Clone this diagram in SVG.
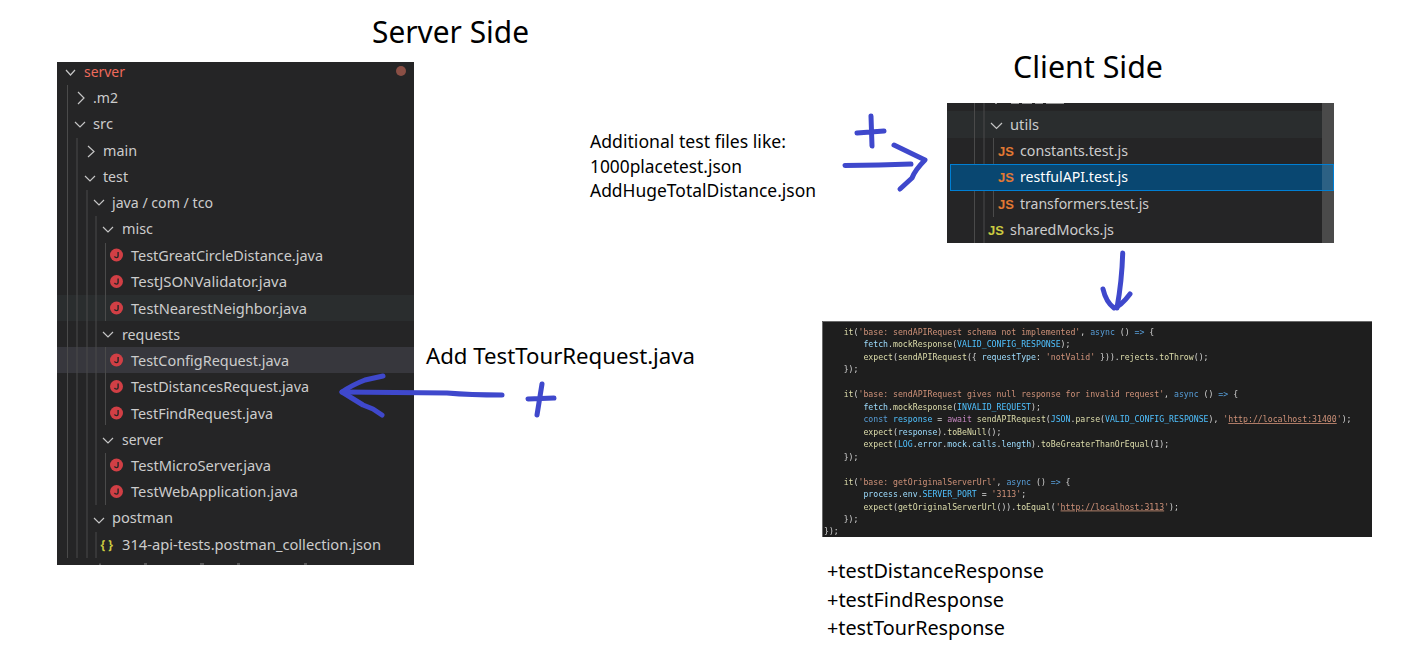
<svg xmlns="http://www.w3.org/2000/svg" width="1416" height="672" viewBox="0 0 1416 672">
<style>
text{font-family:"Noto Sans","Open Sans","Liberation Sans",sans-serif}
.t{fill:#000;font-size:18px}
.h{fill:#000;font-size:30px}
.r{fill:#cccccc;font-size:15px}
.g{stroke:#4a4a4a;stroke-width:1;fill:none}
.c{stroke:#c5c5c5;stroke-width:1.2;fill:none}
.i{fill:#d13f45}
.js{font-size:13px;font-weight:bold;font-family:"Liberation Sans",sans-serif;fill:#e37933}
.k{font-family:"DejaVu Sans Mono","Liberation Mono",monospace;font-size:8.2px;fill:#d4d4d4;white-space:pre}
.f{fill:#dcdcaa}.s{fill:#ce9178}.v{fill:#9cdcfe}.n{fill:#4fc1ff}.b{fill:#569cd6}.a{fill:#c586c0}.u{fill:#ce9178;text-decoration:underline}
.p{fill:none;stroke:#3f48cc;stroke-width:5;stroke-linecap:round;stroke-linejoin:round}
</style>
<defs>
<filter id="soft" x="-2%" y="-2%" width="104%" height="104%"><feGaussianBlur stdDeviation="0.45"/></filter>
<g id="jicon"><circle r="6.5" class="i"/><path d="M1.6-3V1Q1.6 2.6 0 2.6T-2 1.4" fill="none" stroke="#252526" stroke-width="1.4"/></g>
</defs>
<rect width="1416" height="672" fill="#fff"/>

<g id="server-title"><text class="h" x="372" y="43" textLength="157" lengthAdjust="spacingAndGlyphs">Server Side</text></g>
<g id="client-title"><text class="h" x="1013" y="78" textLength="150" lengthAdjust="spacingAndGlyphs">Client Side</text></g>

<g id="server-tree">
<rect x="57" y="62" width="357" height="503" fill="#252526"/>
<rect x="57" y="295" width="357" height="26" fill="#2a2d2e"/>
<rect x="57" y="347" width="357" height="26" fill="#37373d"/>
<path class="g" d="M67.500 85V558M77 138V558M87 190V558M96 216V505M96 532V558M105.500 243V321M105.500 347V425M105.500 453V505"/>
<circle cx="401" cy="71" r="5" fill="#8a4f45"/>
<path class="c" d="M66 70l4.500 5 4.500-5M78 92l6 6-6 6M75 122l5 5 5-5M88 146l6 5.500-6 5.500M85 176l5 5 5-5M94 200l5 5 5-5M103 227l5 5 5-5M103 332l5 5 5-5M103 438l5 5 5-5M94 518l5 5 5-5"/>
<path d="M100 563.500v1.500M144 564h3M200 564h4M237 564h3M304 564h3" stroke="#8a8a8a" stroke-width="1" fill="none"/>
<text class="r" x="84" y="76.500" style="fill:#ee6a5b" textLength="41" lengthAdjust="spacingAndGlyphs">server</text>
<text class="r" x="93" y="102.500" textLength="25" lengthAdjust="spacingAndGlyphs">.m2</text>
<text class="r" x="93" y="128.500" textLength="20" lengthAdjust="spacingAndGlyphs">src</text>
<text class="r" x="103" y="155.500" textLength="34" lengthAdjust="spacingAndGlyphs">main</text>
<text class="r" x="103" y="181.500" textLength="25" lengthAdjust="spacingAndGlyphs">test</text>
<text class="r" x="112" y="207.500" textLength="101" lengthAdjust="spacingAndGlyphs">java / com / tco</text>
<text class="r" x="122" y="233.500" textLength="31" lengthAdjust="spacingAndGlyphs">misc</text>
<use href="#jicon" x="116.500" y="255"/><text class="r" x="131" y="260.500" textLength="192" lengthAdjust="spacingAndGlyphs">TestGreatCircleDistance.java</text>
<use href="#jicon" x="116.500" y="281.500"/><text class="r" x="131" y="287" textLength="156" lengthAdjust="spacingAndGlyphs">TestJSONValidator.java</text>
<use href="#jicon" x="116.500" y="308"/><text class="r" x="131" y="313.500" textLength="176" lengthAdjust="spacingAndGlyphs">TestNearestNeighbor.java</text>
<text class="r" x="122" y="339.500" textLength="58" lengthAdjust="spacingAndGlyphs">requests</text>
<use href="#jicon" x="116.500" y="360"/><text class="r" x="131" y="365.500" textLength="158" lengthAdjust="spacingAndGlyphs">TestConfigRequest.java</text>
<use href="#jicon" x="116.500" y="386.500"/><text class="r" x="131" y="392" textLength="178" lengthAdjust="spacingAndGlyphs">TestDistancesRequest.java</text>
<use href="#jicon" x="116.500" y="413"/><text class="r" x="131" y="418.500" textLength="142" lengthAdjust="spacingAndGlyphs">TestFindRequest.java</text>
<text class="r" x="122" y="444.500" textLength="41" lengthAdjust="spacingAndGlyphs">server</text>
<use href="#jicon" x="116.500" y="465"/><text class="r" x="131" y="470.500" textLength="140" lengthAdjust="spacingAndGlyphs">TestMicroServer.java</text>
<use href="#jicon" x="116.500" y="491.500"/><text class="r" x="131" y="497" textLength="167" lengthAdjust="spacingAndGlyphs">TestWebApplication.java</text>
<text class="r" x="112" y="522.500" textLength="61" lengthAdjust="spacingAndGlyphs">postman</text>
<text x="100.500" y="548.500" style="font-size:13px;font-weight:bold;fill:#cbcb41" textLength="12.500" lengthAdjust="spacingAndGlyphs">{ }</text>
<text class="r" x="122" y="549.500" textLength="259" lengthAdjust="spacingAndGlyphs">314-api-tests.postman_collection.json</text>
</g>

<g id="client-tree">
<rect x="947" y="103" width="387" height="140" fill="#252526"/>
<rect x="947" y="111" width="375" height="27" fill="#2a2d2e"/>
<rect x="1322" y="103" width="12" height="140" fill="#4a4a4a"/>
<path class="g" d="M974.500 103V243M984 103V243M993.500 138V217"/>
<path d="M995 103.500h2M1011 103.500h8M1022 103.500h10M1035 103.500h8M1046 103.500h18" stroke="#9a9a9a" stroke-width="1.200" fill="none"/>
<path class="c" d="M991 123l5.500 5.500 5.500-5.500"/>
<text class="r" x="1010" y="129.500" textLength="29" lengthAdjust="spacingAndGlyphs">utils</text>
<text class="js" x="998" y="155.500">JS</text>
<text class="r" x="1020" y="156" textLength="108" lengthAdjust="spacingAndGlyphs">constants.test.js</text>
<rect x="950.500" y="164.500" width="383" height="26" fill="#094771" stroke="#007fd4"/>
<rect x="1322" y="165" width="11" height="25" fill="#2c6184"/>
<text class="js" x="998" y="181.500">JS</text>
<text class="r" x="1020" y="182" style="fill:#fff" textLength="108" lengthAdjust="spacingAndGlyphs">restfulAPI.test.js</text>
<text class="js" x="998" y="208.500">JS</text>
<text class="r" x="1020" y="209" textLength="129" lengthAdjust="spacingAndGlyphs">transformers.test.js</text>
<text class="js" x="988" y="234.500" style="fill:#cbcb41">JS</text>
<text class="r" x="1010" y="235" textLength="104" lengthAdjust="spacingAndGlyphs">sharedMocks.js</text>
</g>

<g id="code-panel">
<rect x="822" y="321" width="550" height="216" fill="#1e1e1e"/>
<path d="M822.500 537V321.500H1372" fill="none" stroke="#6a6a6a" stroke-width="1"/>
<g filter="url(#soft)">
<text class="k" x="843.700" y="334.500"><tspan class="f">it</tspan>(<tspan class="s">'base: sendAPIRequest schema not implemented'</tspan>, <tspan class="b">async</tspan> () <tspan class="b">=&gt;</tspan> {</text>
<text class="k" x="863.400" y="347"><tspan class="v">fetch</tspan>.<tspan class="f">mockResponse</tspan>(<tspan class="n">VALID_CONFIG_RESPONSE</tspan>);</text>
<text class="k" x="863.400" y="359.500"><tspan class="f">expect</tspan>(<tspan class="f">sendAPIRequest</tspan>({ <tspan class="v">requestType</tspan>: <tspan class="s">'notValid'</tspan> })).<tspan class="f">rejects</tspan>.<tspan class="f">toThrow</tspan>();</text>
<text class="k" x="843.700" y="372">});</text>
<text class="k" x="843.700" y="397"><tspan class="f">it</tspan>(<tspan class="s">'base: sendAPIRequest gives null response for invalid request'</tspan>, <tspan class="b">async</tspan> () <tspan class="b">=&gt;</tspan> {</text>
<text class="k" x="863.400" y="409.500"><tspan class="v">fetch</tspan>.<tspan class="f">mockResponse</tspan>(<tspan class="n">INVALID_REQUEST</tspan>);</text>
<text class="k" x="863.400" y="422"><tspan class="b">const</tspan> <tspan class="n">response</tspan> = <tspan class="a">await</tspan> <tspan class="f">sendAPIRequest</tspan>(<tspan class="n">JSON</tspan>.<tspan class="f">parse</tspan>(<tspan class="n">VALID_CONFIG_RESPONSE</tspan>), <tspan class="s">'</tspan><tspan class="u">http://localhost:31400</tspan><tspan class="s">'</tspan>);</text>
<text class="k" x="863.400" y="434.500"><tspan class="f">expect</tspan>(<tspan class="v">response</tspan>).<tspan class="f">toBeNull</tspan>();</text>
<text class="k" x="863.400" y="447"><tspan class="f">expect</tspan>(<tspan class="n">LOG</tspan>.<tspan class="v">error</tspan>.<tspan class="v">mock</tspan>.<tspan class="v">calls</tspan>.<tspan class="v">length</tspan>).<tspan class="f">toBeGreaterThanOrEqual</tspan>(1);</text>
<text class="k" x="843.700" y="459.500">});</text>
<text class="k" x="843.700" y="484.500"><tspan class="f">it</tspan>(<tspan class="s">'base: getOriginalServerUrl'</tspan>, <tspan class="b">async</tspan> () <tspan class="b">=&gt;</tspan> {</text>
<text class="k" x="863.400" y="497"><tspan class="v">process</tspan>.<tspan class="v">env</tspan>.<tspan class="n">SERVER_PORT</tspan> = <tspan class="s">'3113'</tspan>;</text>
<text class="k" x="863.400" y="509.500"><tspan class="f">expect</tspan>(<tspan class="f">getOriginalServerUrl</tspan>()).<tspan class="f">toEqual</tspan>(<tspan class="s">'</tspan><tspan class="u">http://localhost:3113</tspan><tspan class="s">'</tspan>);</text>
<text class="k" x="843.700" y="522">});</text>
<text class="k" x="824" y="534">});</text>
</g>
</g>

<g id="label-add-tour"><text class="t" x="426" y="364" style="font-size:21px" textLength="269" lengthAdjust="spacingAndGlyphs">Add TestTourRequest.java</text></g>
<g id="label-additional">
<text class="t" x="590" y="148" textLength="196" lengthAdjust="spacingAndGlyphs">Additional test files like:</text>
<text class="t" x="590" y="172.500" textLength="152" lengthAdjust="spacingAndGlyphs">1000placetest.json</text>
<text class="t" x="590" y="197" textLength="226" lengthAdjust="spacingAndGlyphs">AddHugeTotalDistance.json</text>
</g>
<g id="label-responses">
<text class="t" x="827" y="578" style="font-size:20px" textLength="217" lengthAdjust="spacingAndGlyphs">+testDistanceResponse</text>
<text class="t" x="827" y="607" style="font-size:20px" textLength="177" lengthAdjust="spacingAndGlyphs">+testFindResponse</text>
<text class="t" x="827" y="635" style="font-size:20px" textLength="178" lengthAdjust="spacingAndGlyphs">+testTourResponse</text>
</g>

<g id="connectors">
<path class="p" d="M502 395Q470 395 447 393L342 392"/>
<path class="p" d="M383 376L365 380Q352 385 342 392L363 405L373 409L382 415"/>
<path class="p" d="M528 399L554 398M542 384L537 415"/>
<path class="p" d="M845 165.500Q880 165 911 164"/>
<path class="p" d="M894 145L925 160Q915 170 912 178L900 189"/>
<path class="p" d="M857 133L884 131M871 116L872 146"/>
<path class="p" d="M1122.700 253Q1122 280 1117 308"/>
<path class="p" d="M1103 289Q1106 302 1114 308Q1121 306 1130 294"/>
</g>
</svg>
